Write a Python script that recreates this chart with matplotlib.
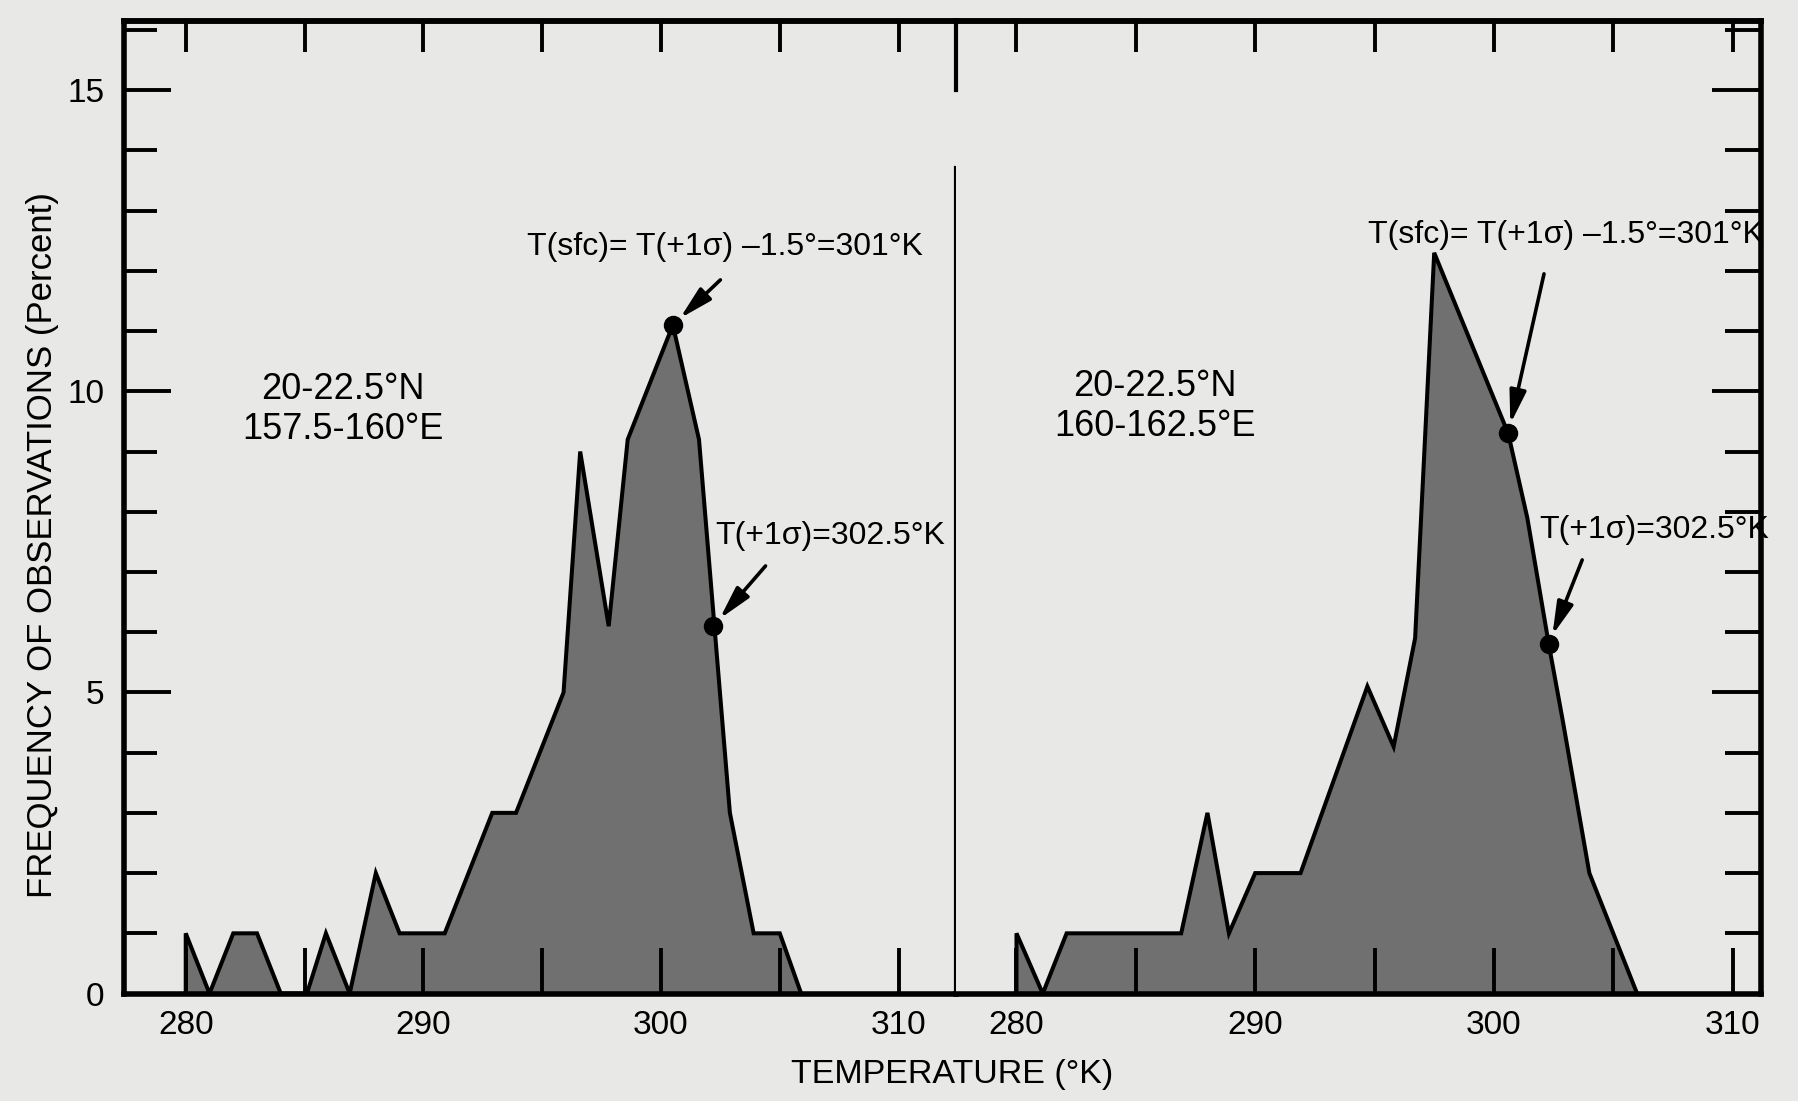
import matplotlib.pyplot as plt
from matplotlib.ticker import MultipleLocator, FixedLocator

# left panel: 20-22.5N, 157.5-160E
temp_left = [280, 280, 281, 282, 283, 284, 285.1, 285.9, 286.9, 288, 289, 290.9, 292.9,
             293.9, 295.9, 296.6, 297.8, 298.6, 300.5, 301.6, 302.9, 303.9, 305, 305.9]
freq_left = [0, 1, 0, 1, 1, 0, 0, 1, 0, 2, 1, 1, 3,
             3, 5, 9, 6.1, 9.2, 11.1, 9.2, 3, 1, 1, 0]
# right panel: 20-22.5N, 160-162.5E
temp_right = [280, 280, 281.1, 282.1, 286.9, 288, 288.9, 290, 291.9, 294.7, 295.8,
              296.7, 297.5, 300.6, 301.4, 302.3, 302.9, 304, 306]
freq_right = [0, 1, 0, 1, 1, 3, 1, 2, 2, 5.1, 4.1,
              5.9, 12.3, 9.3, 7.9, 5.8, 4.5, 2.0, 0]

# marked points: T(sfc) and T(+1 sigma)
marks_t_left = [300.5, 302.2]
marks_f_left = [11.1, 6.1]
marks_t_right = [300.6, 302.3]
marks_f_right = [9.3, 5.8]

x_ticklabels = [280, 290, 300, 310]
x_ticks = [280, 285, 290, 295, 300, 305, 310]
y_ticklabels = [0, 5, 10, 15]

PAPER = '#e8e8e6'
FILL = '#707070'
FONT = ['Liberation Sans', 'DejaVu Sans']
plt.rcParams['font.family'] = FONT

fig = plt.figure(figsize=(17.99, 11.01), dpi=100, facecolor=PAPER)
x0, xm, x1 = 0.0689, 0.5312, 0.979
y0, y1 = 0.0976, 0.981
ax_l = fig.add_axes([x0, y0, xm - x0, y1 - y0])
ax_r = fig.add_axes([xm, y0, x1 - xm, y1 - y0])

for ax in (ax_l, ax_r):
    ax.set_facecolor(PAPER)
    ax.set_ylim(0, 16.15)
    for s in ax.spines.values():
        s.set_linewidth(4)
ax_l.set_xlim(277.4, 312.4)
ax_r.set_xlim(277.45, 311.2)

# the curves
for ax, t, f, mt, mf in [(ax_l, temp_left, freq_left, marks_t_left, marks_f_left),
                         (ax_r, temp_right, freq_right, marks_t_right, marks_f_right)]:
    ax.fill_between(t, f, 0, facecolor=FILL, edgecolor='none', zorder=1)
    ax.plot(t, f, color='black', lw=2.9, zorder=2, solid_joinstyle='miter')
    ax.plot(mt, mf, 'o', color='black', ms=13, zorder=4)

# spines / divider
ax_l.spines['right'].set_linewidth(3)
ax_l.spines['right'].set_bounds(0, 13.7)
ax_r.spines['left'].set_linewidth(3)
ax_r.spines['left'].set_bounds(15.0, 16.15)

# left y axis ticks
ax_l.yaxis.set_major_locator(FixedLocator(y_ticklabels))
ax_l.yaxis.set_minor_locator(MultipleLocator(1))
ax_l.tick_params(axis='y', which='major', direction='in', length=34, width=2.8,
                 labelsize=24, pad=14, right=False)
ax_l.tick_params(axis='y', which='minor', direction='in', length=24, width=2.8, right=False)

# right y axis ticks
ax_r.yaxis.set_major_locator(FixedLocator([5, 10, 15]))
ax_r.yaxis.set_minor_locator(MultipleLocator(1))
ax_r.tick_params(axis='y', which='both', left=False, labelleft=False, right=True,
                 direction='in', width=2.8)
ax_r.tick_params(axis='y', which='major', length=35)
ax_r.tick_params(axis='y', which='minor', length=26)

# x ticks: bottom ticks every 5 with labels at 10s, shorter top ticks every 5
for ax in (ax_l, ax_r):
    ax.xaxis.set_major_locator(FixedLocator(x_ticklabels))
    ax.xaxis.set_minor_locator(FixedLocator(x_ticks))
    ax.tick_params(axis='x', which='both', direction='in', top=False, width=2.8,
                   length=33, labelsize=24, pad=12)
    top = ax.secondary_xaxis('top')
    top.set_xticks(x_ticks)
    top.tick_params(axis='x', direction='in', length=22, width=2.8, labeltop=False)
    top.spines['top'].set_linewidth(4)

# location labels
ax_l.text(286.6, 9.7, '20-22.5\u00b0N\n157.5-160\u00b0E', ha='center', va='center',
          fontsize=26, linespacing=1.2)
ax_r.text(285.8, 9.75, '20-22.5\u00b0N\n160-162.5\u00b0E', ha='center', va='center',
          fontsize=26, linespacing=1.2)

arrow = dict(arrowstyle='-|>,head_length=1.0,head_width=0.25', color='black', lw=2.6,
             shrinkA=0, shrinkB=7, mutation_scale=20)

# annotations, left
ax_l.text(302.7, 12.4, 'T(sfc)= T(+1\u03c3) \u20131.5\u00b0=301\u00b0K', ha='center', va='center',
          fontsize=23)
ax_l.annotate('', xy=(marks_t_left[0], marks_f_left[0]), xytext=(302.5, 11.85), arrowprops=arrow)
ax_l.text(307.1, 7.6, 'T(+1\u03c3)=302.5\u00b0K', ha='center', va='center', fontsize=23)
ax_l.annotate('', xy=(marks_t_left[1], marks_f_left[1]), xytext=(304.4, 7.1), arrowprops=arrow)

# annotations, right
ax_r.text(303.0, 12.6, 'T(sfc)= T(+1\u03c3) \u20131.5\u00b0=301\u00b0K', ha='center', va='center',
          fontsize=23)
ax_r.annotate('', xy=(marks_t_right[0], marks_f_right[0]), xytext=(302.1, 11.95), arrowprops=arrow)
ax_r.text(306.7, 7.7, 'T(+1\u03c3)=302.5\u00b0K', ha='center', va='center', fontsize=23)
ax_r.annotate('', xy=(marks_t_right[1], marks_f_right[1]), xytext=(303.7, 7.2), arrowprops=arrow)

# axis titles
fig.text(0.529, 0.024, 'TEMPERATURE (\u00b0K)', ha='center', va='center', fontsize=24.5)
fig.text(0.0236, 0.505, 'FREQUENCY OF OBSERVATIONS (Percent)', ha='center', va='center',
         rotation=90, fontsize=25)

fig.savefig('out.png', dpi=100, facecolor=PAPER)
